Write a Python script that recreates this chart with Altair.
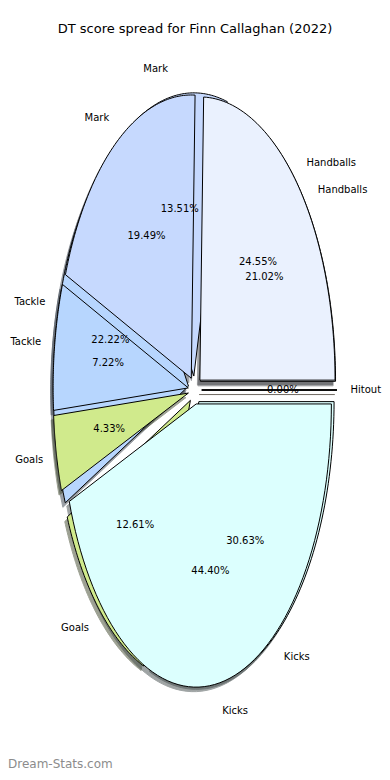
import altair as alt
import pandas as pd

# ---- data ----
title_text = "DT score spread for Finn Callaghan (2022)"
watermark_text = "Dream-Stats.com"
categories = ["Handballs", "Mark", "Tackle", "Goals", "Kicks", "Hitout"]
pie_a = [21.02, 13.51, 22.22, 12.61, 30.63, 0.00]   # drawn behind
pie_b = [24.55, 19.49, 7.22, 4.33, 44.40, 0.00]     # drawn in front

# ---- styles ----
colors = ["#eaf1fe", "#c6d9fe", "#b7d6fe", "#d0ea8c", "#dcfffe", "#fde0c0"]


def shade(hex_color, k=0.3):
    r, g, b = (int(hex_color[i:i + 2], 16) for i in (1, 3, 5))
    return "#%02x%02x%02x" % (int(r * k), int(g * k), int(b * k))


shadow_colors = [shade(c) for c in colors]
EXPLODE = 0.05
PCT_DIST = 0.6
LABEL_DIST = 1.1
SHADOW_DX = -0.018
SHADOW_DY = -0.016
N = 72
FONT = "DejaVu Sans"
W, H = 338, 708
PAD = {"left": 18, "top": 28, "right": 18, "bottom": 28}

rows = []
for pie, vals in (("A", pie_a), ("B", pie_b)):
    for i, (c, v) in enumerate(zip(categories, vals)):
        rows.append({"pie": pie, "order": i, "category": c, "value": v})
df = pd.DataFrame(rows)

xscale = alt.Scale(domain=[-1.25, 1.25], nice=False, zero=False)
yscale = alt.Scale(domain=[-1.25, 1.25], nice=False, zero=False)

base = (
    alt.Chart(df)
    .transform_joinaggregate(total="sum(value)", groupby=["pie"])
    .transform_window(
        cum="sum(value)",
        groupby=["pie"],
        sort=[alt.SortField("order", order="ascending")],
        frame=[None, 0],
    )
    .transform_calculate(
        a0="2*PI*(datum.cum - datum.value)/datum.total",
        a1="2*PI*datum.cum/datum.total",
    )
    .transform_calculate(am="(datum.a0 + datum.a1)/2")
    .transform_calculate(
        ex=f"{EXPLODE}*cos(datum.am)",
        ey=f"{EXPLODE}*sin(datum.am)",
    )
)

poly = (
    base.transform_calculate(pts=f"sequence(-1, {N + 1})")
    .transform_flatten(["pts"])
    .transform_calculate(
        ang=f"datum.a0 + (datum.a1 - datum.a0) * max(datum.pts, 0) / {N}",
        wid="datum.pie + '-' + datum.category",
    )
    .transform_calculate(
        px="datum.ex + (datum.pts < 0 ? 0 : cos(datum.ang))",
        py="datum.ey + (datum.pts < 0 ? 0 : sin(datum.ang))",
    )
)

fill_scale = alt.Scale(domain=categories, range=colors)
shadow_scale = alt.Scale(domain=categories, range=shadow_colors)

shadows = (
    poly.transform_calculate(
        sx=f"datum.px + ({SHADOW_DX})", sy=f"datum.py + ({SHADOW_DY})"
    )
    .mark_line(interpolate="linear-closed", strokeWidth=1, opacity=0.5, strokeJoin="miter")
    .encode(
        x=alt.X("sx:Q", scale=xscale, axis=None),
        y=alt.Y("sy:Q", scale=yscale, axis=None),
        detail="wid:N",
        order=alt.Order("pts:Q"),
        fill=alt.Fill("category:N", scale=shadow_scale, legend=None),
        stroke=alt.Stroke("category:N", scale=shadow_scale, legend=None),
    )
)


def wedge_layer(pie):
    return (
        poly.transform_filter(f"datum.pie == '{pie}'")
        .mark_line(interpolate="linear-closed", strokeWidth=1, stroke="black", strokeJoin="miter")
        .encode(
            x=alt.X("px:Q", scale=xscale, axis=None),
            y=alt.Y("py:Q", scale=yscale, axis=None),
            detail="wid:N",
            order=alt.Order("pts:Q"),
            fill=alt.Fill("category:N", scale=fill_scale, legend=None),
        )
    )


# texts of the empty slice coincide in both pies: draw them once
text_base = base.transform_filter("!(datum.pie == 'A' && datum.value == 0)")

pct = (
    text_base.transform_calculate(
        tx=f"datum.ex + {PCT_DIST}*cos(datum.am)",
        ty=f"datum.ey + {PCT_DIST}*sin(datum.am)",
        txt="format(datum.value, '.2f') + '%'",
    )
    .mark_text(font=FONT, fontSize=10, color="black", align="center", baseline="middle")
    .encode(
        x=alt.X("tx:Q", scale=xscale, axis=None),
        y=alt.Y("ty:Q", scale=yscale, axis=None),
        text="txt:N",
    )
)

lab_base = text_base.transform_calculate(
    lx=f"datum.ex + {LABEL_DIST}*cos(datum.am)",
    ly=f"datum.ey + {LABEL_DIST}*sin(datum.am)",
)


def label_layer(side):
    cond = "datum.lx > 0" if side == "left" else "datum.lx <= 0"
    return (
        lab_base.transform_filter(cond)
        .mark_text(font=FONT, fontSize=10, color="black", align=side, baseline="middle")
        .encode(
            x=alt.X("lx:Q", scale=xscale, axis=None),
            y=alt.Y("ly:Q", scale=yscale, axis=None),
            text="category:N",
        )
    )


wm = (
    alt.Chart(pd.DataFrame({"t": [watermark_text]}))
    .mark_text(font=FONT, fontSize=12, color="#8c8c8c",
               align="left", baseline="bottom")
    .encode(x=alt.value(-PAD["left"]), y=alt.value(H + PAD["bottom"] - 1), text="t:N")
)

chart = (
    alt.layer(
        shadows,
        wedge_layer("A"),
        wedge_layer("B"),
        pct,
        label_layer("left"),
        label_layer("right"),
        wm,
    )
    .resolve_scale(fill="independent", stroke="independent")
    .properties(
        width=W,
        height=H,
        autosize=alt.AutoSizeParams(type="none"),
        padding=PAD,
        title=alt.TitleParams(
            title_text, font=FONT, fontSize=13, fontWeight="normal",
            color="black", anchor="middle", offset=0,
        ),
    )
    .configure_view(stroke=None)
)

chart.save("out.html", embed_options={"renderer": "svg", "actions": False})
